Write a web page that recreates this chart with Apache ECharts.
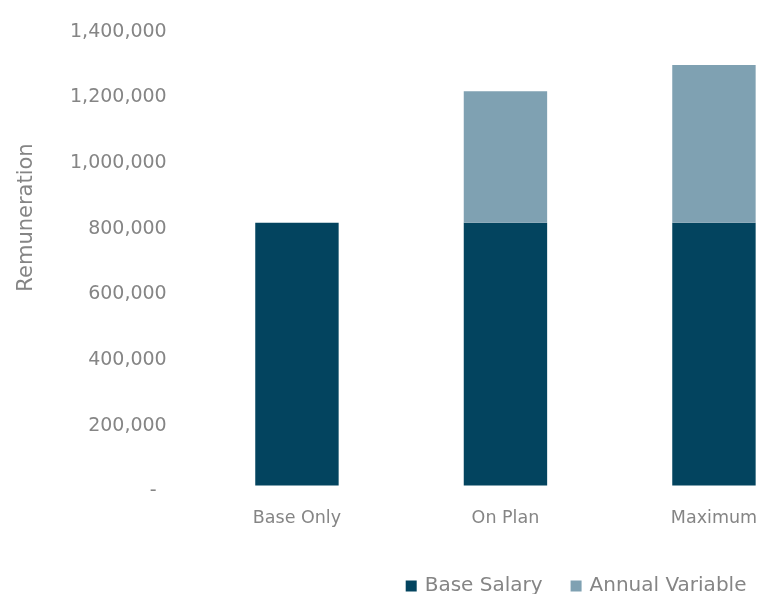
<!DOCTYPE html>
<html>
<head>
<meta charset="utf-8">
<script src="https://cdn.jsdelivr.net/npm/echarts@6/dist/echarts.min.js"></script>
<style>html,body{margin:0;padding:0;background:#fff;overflow:hidden;width:757px;height:594px}#c{width:819px;height:594px}</style>
</head>
<body>
<div id="c"></div>
<script>
const categories = ['Base Only', 'On Plan', 'Maximum'];
const baseSalary = [800000, 800000, 800000];
const annualVariable = [0, 400000, 480000];
const yTicks = [0, 200000, 400000, 600000, 800000, 1000000, 1200000, 1400000];

const gray = '#858585';
const font = 'DejaVu Sans';
const chart = echarts.init(document.getElementById('c'), null, {renderer: 'canvas'});
chart.setOption({
  animation: false,
  backgroundColor: '#ffffff',
  grid: {left: 192.7, top: 25.6, right: 0.8, height: 459.9, containLabel: false},
  xAxis: {
    type: 'category',
    data: categories,
    axisLine: {show: false},
    axisTick: {show: false},
    axisLabel: {color: gray, fontFamily: font, fontSize: 17.5, margin: 24}
  },
  yAxis: {
    type: 'value',
    min: yTicks[0],
    max: yTicks[yTicks.length - 1],
    interval: 200000,
    splitLine: {show: false},
    axisLine: {show: false},
    axisTick: {show: false},
    axisLabel: {
      color: gray, fontFamily: font, fontSize: 19, margin: 26,
      padding: [12, 0, 0, 0],
      formatter: v => v === 0 ? '{z|-}' : v.toLocaleString('en-US'),
      rich: {z: {color: gray, fontFamily: font, fontSize: 19, padding: [0, 10, 0, 0]}}
    }
  },
  legend: {
    left: 405.7, top: 576, padding: 0,
    itemWidth: 11, itemHeight: 11, itemGap: 28,
    icon: 'rect',
    textStyle: {color: gray, fontFamily: font, fontSize: 20, padding: [0, 0, 0, 3]},
    data: ['Base Salary', 'Annual Variable']
  },
  graphic: [{
    type: 'text',
    x: 27, y: 217.5,
    rotation: Math.PI / 2,
    style: {text: 'Remuneration', fill: gray, font: '21px "DejaVu Sans"', textAlign: 'center', textVerticalAlign: 'middle'}
  }],
  series: [
    {name: 'Base Salary', type: 'bar', stack: 'total', data: baseSalary, barWidth: '40%', itemStyle: {color: '#03445f'}},
    {name: 'Annual Variable', type: 'bar', stack: 'total', data: annualVariable, barWidth: '40%', itemStyle: {color: '#7fa1b2'}}
  ]
});
</script>
</body>
</html>
